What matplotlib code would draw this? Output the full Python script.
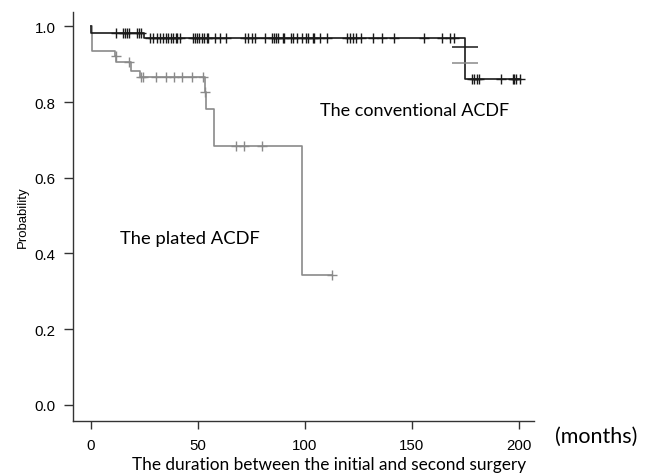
import numpy as np
import matplotlib
matplotlib.use("Agg")
import matplotlib.pyplot as plt

# -----------------------------
# Data
# -----------------------------
# conventional ACDF (black)
conv_t = [0.0, 0.2, 25.0, 174.9, 200.6]
conv_s = [1.0, 0.982, 0.968, 0.861, 0.861]
conv_cens = [11.8, 14.9, 15.9, 16.8, 17.9, 21.5, 22.6, 23.6,
             27.7, 29.3, 31.1, 32.4, 33.6, 35.2, 36.3, 37.4, 38.6, 39.7, 40.5, 41.7,
             47.7, 48.7, 49.8, 50.7, 51.9, 52.9, 54.2, 55.0, 58.1, 60.4, 63.1,
             72.1, 73.6, 75.2, 76.8, 81.4, 84.6, 85.7, 86.8, 87.5, 89.7, 90.3,
             93.5, 94.7, 96.3, 98.6, 100.6, 101.7, 103.7, 104.5, 107.1, 110.3,
             119.9, 121.2, 122.4, 124.0, 126.2, 131.8, 136.0, 141.7, 155.7,
             164.0, 167.9, 169.8, 178.3, 179.3, 180.4, 181.5, 191.7, 197.2,
             198.0, 198.8, 200.6]

# plated ACDF (grey)
plate_t = [0.0, 0.6, 11.5, 12.0, 18.7, 23.0, 53.3, 53.8, 57.7, 98.7, 112.9]
plate_s = [1.0, 0.936, 0.921, 0.905, 0.883, 0.866, 0.826, 0.781, 0.685, 0.343, 0.343]
plate_cens = [11.7, 18.0, 23.5, 24.3, 30.5, 35.2, 38.9, 42.5, 47.2, 52.6, 53.5,
              67.9, 71.6, 79.9, 112.9]

# the two wide marks on the drop of the black curve
wide_t = [174.9, 174.9]
wide_s = [0.946, 0.902]
wide_col = ["#1a1a1a", "#8a8a8a"]

xticks = [0, 50, 100, 150, 200]
yticks = [0.0, 0.2, 0.4, 0.6, 0.8, 1.0]


def surv_at(t_ev, s_ev, tc):
    idx = np.searchsorted(np.array(t_ev), np.array(tc), side="right") - 1
    return np.array(s_ev)[idx]


fig = plt.figure(figsize=(6.5, 4.77), dpi=100)
ax = fig.add_axes([73 / 650, 55.3 / 477, 460.5 / 650, 409 / 477])

black = "#1a1a1a"
grey = "#8a8a8a"

ax.plot(plate_t, plate_s, drawstyle="steps-post", color=grey, lw=1.2)
ax.plot(plate_cens, surv_at(plate_t, plate_s, plate_cens), "+", color=grey,
        ms=7.5, mew=1.0)

ax.plot(conv_t, conv_s, drawstyle="steps-post", color=black, lw=1.2)
ax.plot(conv_cens, surv_at(conv_t, conv_s, conv_cens), "+", color=black,
        ms=7.5, mew=1.0)

for t, s, c in zip(wide_t, wide_s, wide_col):
    ax.plot([t], [s], "_", color=c, ms=19, mew=1.1)

ax.set_xlim(-8.27, 206.9)
ax.set_ylim(-0.042, 1.0386)
ax.set_xticks(xticks)
ax.set_yticks(yticks)
ax.set_yticklabels([f"{v:.1f}" for v in yticks])

for side in ["top", "right"]:
    ax.spines[side].set_visible(False)
for side in ["left", "bottom"]:
    ax.spines[side].set_color("#333333")
    ax.spines[side].set_linewidth(1.0)

ax.tick_params(axis="x", length=5.5, width=1.0, pad=7, colors="#333333",
               labelsize=10.8, labelcolor="black")
ax.tick_params(axis="y", length=6.5, width=1.0, pad=6, colors="#333333",
               labelsize=10.8, labelcolor="black")
for lab in ax.get_xticklabels() + ax.get_yticklabels():
    lab.set_family("Liberation Sans")

ax.set_ylabel("Probability", fontsize=9.5, family="Liberation Sans", labelpad=4)

txt = dict(family="Lato", color="black")
fig.text(329 / 650, 1 - 465 / 477, "The duration between the initial and second surgery",
         ha="center", va="center", fontsize=12.4, **txt)
fig.text(555 / 650, 1 - 437 / 477, "(months)", ha="left", va="center",
         fontsize=15.5, **txt)
ax.text(107, 0.78, "The conventional ACDF", ha="left", va="center",
        fontsize=13.0, **txt)
ax.text(13.5, 0.44, "The plated ACDF", ha="left", va="center",
        fontsize=13.2, **txt)

fig.savefig("out.png", dpi=100)
